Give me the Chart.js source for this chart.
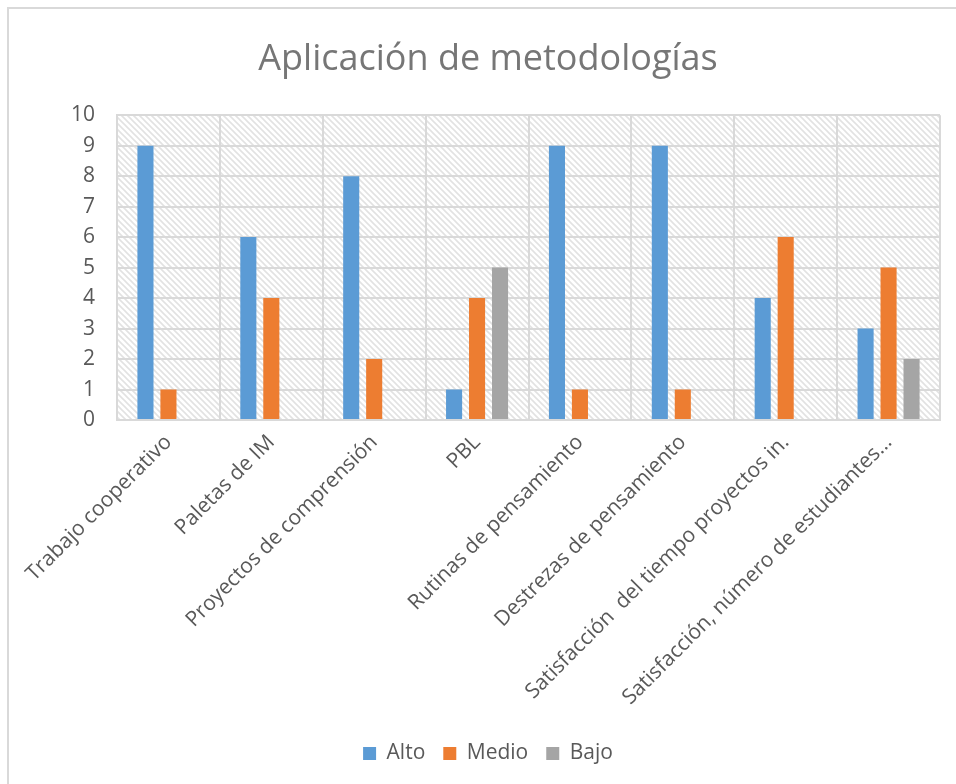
<!DOCTYPE html>
<html>
<head>
<meta charset="utf-8">
<script src="https://cdn.jsdelivr.net/npm/chart.js@4/dist/chart.umd.min.js"></script>
<style>
  html, body { margin: 0; padding: 0; background: #ffffff; }
  #wrap { position: absolute; left: 0; top: 0; width: 956px; height: 784px; }
</style>
</head>
<body>
<div id="wrap"><canvas id="c"></canvas></div>
<script>
const categories = [
  "Trabajo cooperativo",
  "Paletas de IM",
  "Proyectos de comprensión",
  "PBL",
  "Rutinas de pensamiento",
  "Destrezas de pensamiento",
  "Satisfacción  del tiempo proyectos in.",
  "Satisfacción, número de estudiantes…"
];
const alto  = [9, 6, 8, 1, 9, 9, 4, 3];
const medio = [1, 4, 2, 4, 1, 1, 6, 5];
const bajo  = [0, 0, 0, 5, 0, 0, 0, 2];
const seriesNames = ["Alto", "Medio", "Bajo"];
const titleText = "Aplicación de metodologías";

const FONT = "'Open Sans', 'DejaVu Sans', sans-serif";
const TEXT = "#595959";
const GRID = "#d9d9d9";

function makePattern() {
  const p = document.createElement('canvas');
  p.width = 6; p.height = 6;
  const g = p.getContext('2d');
  g.fillStyle = '#ffffff';
  g.fillRect(0, 0, 6, 6);
  g.strokeStyle = '#e2e2e2';
  g.lineWidth = 1.6;
  g.beginPath();
  g.moveTo(-2, -2); g.lineTo(8, 8);
  g.moveTo(-2, 4); g.lineTo(2, 8);
  g.moveTo(4, -2); g.lineTo(8, 2);
  g.stroke();
  return p;
}

const bgPlugin = {
  id: 'bg',
  beforeDraw(chart) {
    const ctx = chart.ctx;
    const a = chart.chartArea;
    ctx.save();
    ctx.strokeStyle = GRID;
    ctx.lineWidth = 2;
    ctx.beginPath();
    ctx.moveTo(8, 784); ctx.lineTo(8, 8); ctx.lineTo(956, 8);
    ctx.stroke();
    ctx.fillStyle = ctx.createPattern(makePattern(), 'repeat');
    ctx.fillRect(a.left, a.top, a.right - a.left, a.bottom - a.top);
    ctx.restore();
  }
};

new Chart(document.getElementById('c'), {
  type: 'bar',
  data: {
    labels: categories,
    datasets: [
      { label: seriesNames[0], data: alto,  backgroundColor: '#5b9bd5' },
      { label: seriesNames[1], data: medio, backgroundColor: '#ed7d31' },
      { label: seriesNames[2], data: bajo,  backgroundColor: '#a5a5a5' }
    ]
  },
  options: {
    responsive: true,
    maintainAspectRatio: false,
    animation: false,
    datasets: { bar: { categoryPercentage: 0.67, barPercentage: 0.7 } },
    layout: { padding: { left: 36, right: 16, top: 0, bottom: 10 } },
    plugins: {
      title: {
        display: true,
        text: titleText,
        color: '#767676',
        font: { family: FONT, size: 36, weight: 'normal' },
        padding: { top: 38, bottom: 34 }
      },
      legend: {
        position: 'bottom',
        labels: {
          color: TEXT,
          font: { family: FONT, size: 21 },
          boxWidth: 13, boxHeight: 13,
          padding: 18
        }
      },
      tooltip: { enabled: false }
    },
    scales: {
      x: {
        grid: { color: GRID, lineWidth: 2, drawTicks: false },
        border: { color: GRID, width: 2 },
        ticks: {
          color: TEXT,
          font: { family: FONT, size: 21 },
          maxRotation: 45, minRotation: 45,
          autoSkip: false,
          padding: 10
        },
        afterFit(s) { s.height = 305; }
      },
      y: {
        min: 0, max: 10,
        grid: { color: GRID, lineWidth: 2, drawTicks: false },
        border: { color: GRID, width: 2 },
        ticks: {
          stepSize: 1,
          color: TEXT,
          font: { family: FONT, size: 21 },
          padding: 22
        },
        afterFit(s) { s.width = 81; }
      }
    }
  },
  plugins: [bgPlugin]
});
</script>
</body>
</html>
